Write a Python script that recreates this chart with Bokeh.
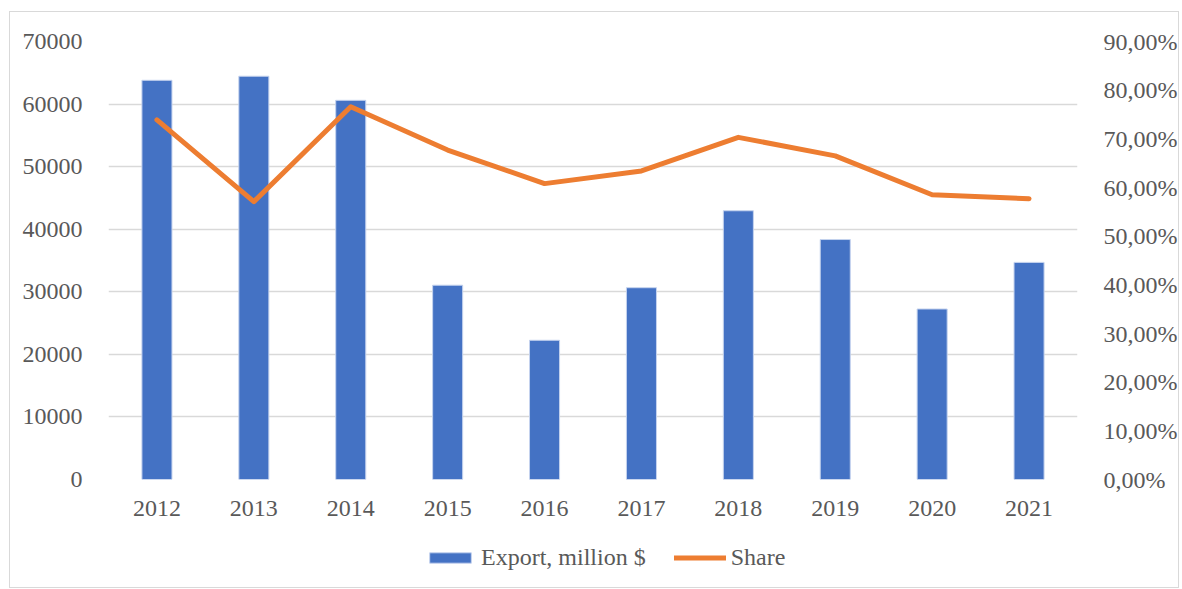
from bokeh.plotting import figure
from bokeh.layouts import column
from bokeh.models import (Range1d, LinearAxis, FixedTicker, CustomJSTickFormatter,
                          Legend, LegendItem, FactorRange)
from bokeh.embed import file_html
from bokeh.resources import INLINE

years = ["2012", "2013", "2014", "2015", "2016", "2017", "2018", "2019", "2020", "2021"]
export = [63800, 64450, 60600, 31050, 22250, 30650, 42950, 38350, 27250, 34700]
share = [0.739, 0.571, 0.766, 0.677, 0.608, 0.634, 0.703, 0.665, 0.585, 0.577]
left_ticks = [0, 10000, 20000, 30000, 40000, 50000, 60000, 70000]
right_ticks = [0.0, 0.1, 0.2, 0.3, 0.4, 0.5, 0.6, 0.7, 0.8, 0.9]
series_names = ["Export, million $", "Share"]

FONT = "Liberation Serif"
TXT = "#595959"
GRID = "#d9d9d9"
BAR = "#4472C4"
BAR_EDGE = "#c5d3ee"
LINE = "#ED7D31"
BORDER = "1px solid #d9d9d9"
W, H = 1170, 520
FL, FR, FT, FB = 98, 1073, 29, 467   # frame edges in canvas pixels

p = figure(x_range=FactorRange(*years), y_range=Range1d(0, 70000),
           width=W, height=H, output_backend="svg", toolbar_location=None,
           min_border_left=FL, min_border_right=W - FR, min_border_top=FT,
           min_border_bottom=H - FB)
p.styles = {"border-left": BORDER, "border-right": BORDER, "border-top": BORDER,
            "margin-left": "9px", "margin-top": "11px"}
p.outline_line_color = None
p.background_fill_color = "white"
p.border_fill_color = "white"

p.extra_y_ranges = {"share": Range1d(0, 0.9)}

p.vbar(x=years, top=export, width=0.31, fill_color=BAR, line_color=BAR_EDGE, line_width=1)
p.line(x=years, y=share, y_range_name="share", line_color=LINE,
       line_width=5, line_join="round", line_cap="round")

p.yaxis.ticker = FixedTicker(ticks=left_ticks)
p.yaxis.formatter = CustomJSTickFormatter(code="return tick.toFixed(0);")

ry = LinearAxis(y_range_name="share", ticker=FixedTicker(ticks=right_ticks),
                formatter=CustomJSTickFormatter(code="return (tick*100).toFixed(2).replace('.', ',') + '%';"))
p.add_layout(ry, "right")

for ax in [p.xaxis[0], p.yaxis[0], ry]:
    ax.axis_line_color = None
    ax.major_tick_line_color = None
    ax.minor_tick_line_color = None
    ax.major_label_text_font = FONT
    ax.major_label_text_font_size = "24px"
    ax.major_label_text_color = TXT
    ax.major_label_standoff = 20

p.xaxis.major_label_standoff = 15
p.xgrid.grid_line_color = None
p.ygrid.grid_line_color = GRID
p.ygrid.grid_line_width = 1.5
p.ygrid.ticker = FixedTicker(ticks=left_ticks)

# legend strip below the chart (hidden copies of the series supply the legend glyphs)
lp = figure(width=W, height=57, x_range=FactorRange(*years), y_range=Range1d(0, 70000),
            x_axis_type=None, y_axis_type=None, output_backend="svg",
            toolbar_location=None, min_border=0)
lp.styles = {"border-left": BORDER, "border-right": BORDER, "border-bottom": BORDER,
             "margin-left": "9px"}
lp.outline_line_color = None
lp.xgrid.grid_line_color = None
lp.ygrid.grid_line_color = None
lp.background_fill_color = "white"
lp.border_fill_color = "white"
lbar = lp.vbar(x=years, top=export, width=0.31, fill_color=BAR, line_color=BAR_EDGE,
               line_width=1, visible=False)
lline = lp.line(x=years, y=share, line_color=LINE, line_width=5, line_cap="round",
                visible=False)

legend = Legend(items=[LegendItem(label=series_names[0], renderers=[lbar]),
                       LegendItem(label=series_names[1], renderers=[lline])],
                orientation="horizontal", location=(316, 17),
                label_text_font=FONT, label_text_font_size="24px",
                label_text_color=TXT, glyph_width=52, glyph_height=13,
                spacing=28, label_standoff=5, padding=0, margin=0,
                inactive_fill_alpha=0,
                border_line_color=None, background_fill_alpha=0)
lp.add_layout(legend, "center")

layout = column(p, lp, spacing=0)
open("out.html", "w").write(file_html(layout, INLINE))
